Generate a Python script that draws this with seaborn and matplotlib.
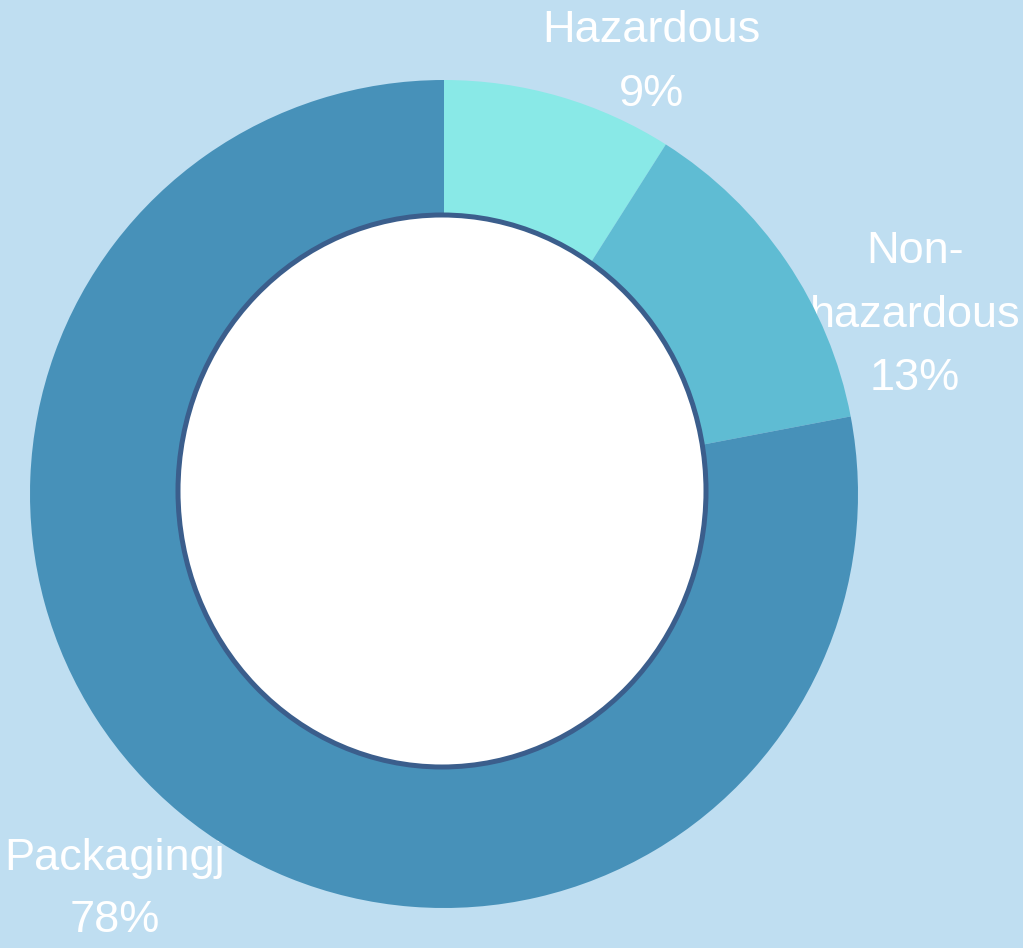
import matplotlib
matplotlib.use("Agg")
import matplotlib.pyplot as plt
from matplotlib.patches import Ellipse
import seaborn as sns

categories = ["Hazardous", "Non-hazardous", "Packaging"]
values = [9, 13, 78]
label_lines = [["Hazardous", "9%"], ["Non-", "hazardous", "13%"], ["Packagingj", "78%"]]
colors = ["#89E9E7", "#5FBCD3", "#4791B9"]

sns.set_style("white")
plt.rcParams["font.family"] = ["Liberation Sans", "DejaVu Sans"]

W, H = 1023, 948
fig = plt.figure(figsize=(W / 100, H / 100), dpi=100)
bg = "#BFDEF1"
fig.patch.set_facecolor(bg)
ax = fig.add_axes([0, 0, 1, 1])
ax.set_facecolor(bg)

cx, cy, R = 444, 494, 414

def px(x, y):
    return (x - cx) / R, (cy - y) / R

pal = sns.color_palette(colors)
wedges, _ = ax.pie(values, colors=pal, startangle=90, counterclock=False,
                   radius=1.0, wedgeprops=dict(linewidth=0))
for w in wedges:
    w.set_zorder(3)

inner = Ellipse(px(442, 491), width=2 * 264 / R, height=2 * 276 / R,
                facecolor="white", edgecolor="#3B5E8C", linewidth=3.6, zorder=4)
ax.add_patch(inner)

# label layout: (x center, baselines) in pixels
layout = [(651, [42, 106]), (915, [263, 327, 390]), (115, [870, 932])]
for lines, (lx, bases) in zip(label_lines, layout):
    for t, b in zip(lines, bases):
        x, y = px(lx, b)
        ax.text(x, y, t, ha="center", va="baseline", color="white",
                fontsize=32.5, zorder=1)

ax.set_aspect("auto")
ax.set_xlim(-cx / R, (W - cx) / R)
ax.set_ylim(-(H - cy) / R, cy / R)
ax.axis("off")

fig.savefig("out.png", dpi=100, facecolor=bg)
